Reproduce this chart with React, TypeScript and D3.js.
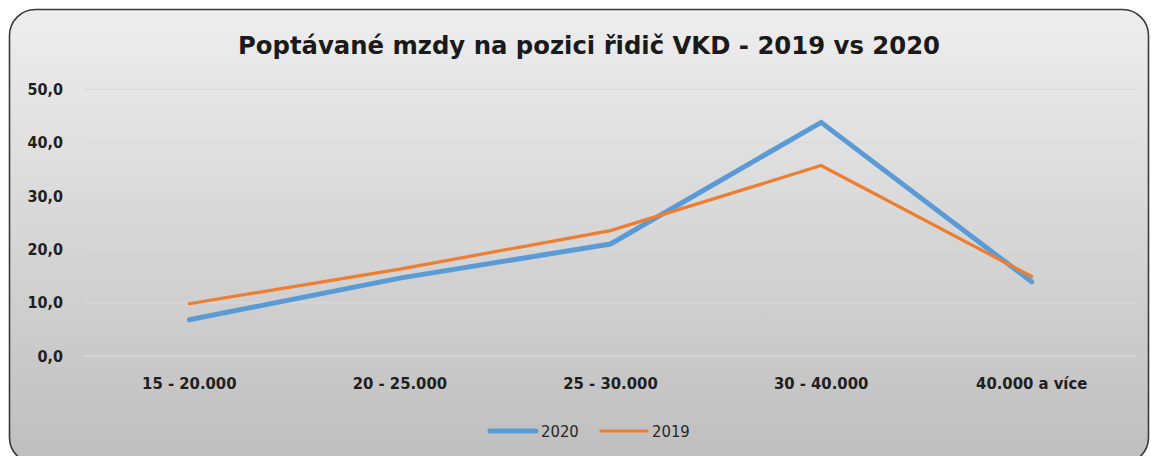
import React from "react";
import * as d3 from "d3";

const categories = ["15 - 20.000", "20 - 25.000", "25 - 30.000", "30 - 40.000", "40.000 a více"];
const series2020 = [6.8, 14.6, 21.0, 43.8, 13.9];
const series2019 = [9.8, 16.3, 23.5, 35.7, 14.9];
const yTicks = [0, 10, 20, 30, 40, 50];
const seriesNames = ["2020", "2019"];
const title = "Poptávané mzdy na pozici řidič VKD - 2019 vs 2020";

const W = 1151;
const H = 456;
const FONT = "'DejaVu Sans Condensed', 'DejaVu Sans', sans-serif";

export default function App() {
  const x = d3.scalePoint<string>().domain(categories).range([84, 1137]).padding(0.5);
  const y = d3.scaleLinear().domain([0, 50]).range([356, 89.3]);
  const line = d3
    .line<number>()
    .x((_, i) => x(categories[i]) as number)
    .y((d) => y(d));
  const fmt = (v: number) => v.toFixed(1).replace(".", ",");

  return (
    <div style={{ position: "fixed", left: 0, top: 0 }}>
      <svg width={W} height={H} style={{ display: "block", background: "#fff" }}>
        <defs>
          <linearGradient id="bg" x1="0" y1="0" x2="0" y2="1">
            <stop offset="0" stopColor="#eeeeee" />
            <stop offset="1" stopColor="#bebebe" />
          </linearGradient>
        </defs>
        <rect x={9.5} y={9.5} width={1139} height={454} rx={26} ry={26} fill="url(#bg)" stroke="#3a3a3a" strokeWidth={1.6} />
        <text
          x={589}
          y={54}
          textAnchor="middle"
          fontFamily={FONT}
          fontWeight="bold"
          fontSize={24}
          fill="#1a1a1a"
          textLength={702}
          lengthAdjust="spacingAndGlyphs"
        >
          {title}
        </text>
        {yTicks.map((t) => (
          <g key={t}>
            <line x1={84} x2={1137} y1={y(t)} y2={y(t)} stroke="#d9d9d9" strokeWidth={1.3} />
            <text
              x={63}
              y={y(t)}
              dy="0.36em"
              textAnchor="end"
              fontFamily={FONT}
              fontWeight="bold"
              fontSize={16}
              fill="#1f1f1f"
            >
              {fmt(t)}
            </text>
          </g>
        ))}
        {categories.map((c) => (
          <text
            key={c}
            x={x(c) as number}
            y={383}
            dy="0.36em"
            textAnchor="middle"
            fontFamily={FONT}
            fontWeight="bold"
            fontSize={16.5}
            fill="#1f1f1f"
          >
            {c}
          </text>
        ))}
        <path d={line(series2020) || ""} fill="none" stroke="#5b9bd5" strokeWidth={5} strokeLinejoin="miter" strokeLinecap="round" />
        <path d={line(series2019) || ""} fill="none" stroke="#ed7d31" strokeWidth={3.2} strokeLinejoin="miter" strokeLinecap="round" />
        <g>
          <line x1={490} x2={536} y1={431} y2={431} stroke="#5b9bd5" strokeWidth={5} strokeLinecap="round" />
          <text x={541} y={431} dy="0.36em" fontFamily={FONT} fontSize={16.5} fill="#262626">
            {seriesNames[0]}
          </text>
          <line x1={601} x2={647} y1={431} y2={431} stroke="#ed7d31" strokeWidth={3.2} strokeLinecap="round" />
          <text x={652} y={431} dy="0.36em" fontFamily={FONT} fontSize={16.5} fill="#262626">
            {seriesNames[1]}
          </text>
        </g>
      </svg>
    </div>
  );
}
